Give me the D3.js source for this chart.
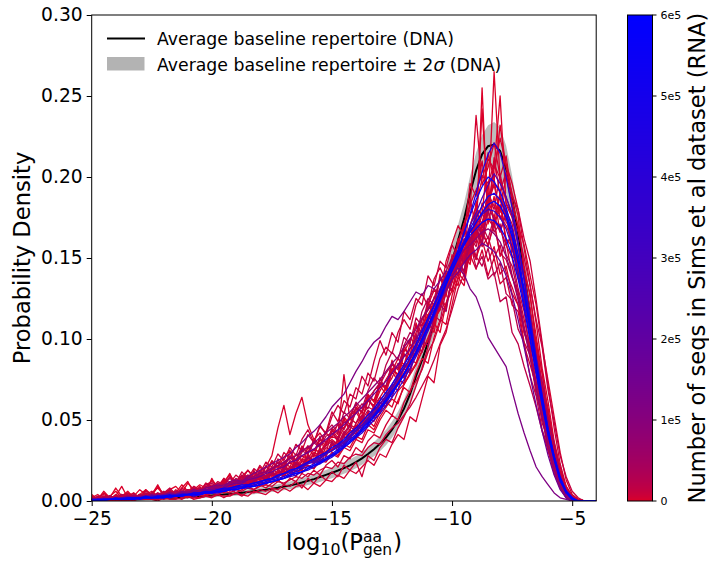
<!DOCTYPE html>
<html><head><meta charset="utf-8">
<script src="https://cdn.jsdelivr.net/npm/d3@7"></script>
<style>body{margin:0;background:#fff}svg{display:block}text{font-family:"DejaVu Sans",sans-serif}</style>
</head><body><svg id="c" width="709" height="561"></svg>
<script>
// ---- data (densities read in units of 1e-3) ----
const xBins = [-25,-24.75,-24.5,-24.25,-24,-23.75,-23.5,-23.25,-23,-22.75,-22.5,-22.25,-22,-21.75,-21.5,-21.25,-21,-20.75,-20.5,-20.25,-20,-19.75,-19.5,-19.25,-19,-18.75,-18.5,-18.25,-18,-17.75,-17.5,-17.25,-17,-16.75,-16.5,-16.25,-16,-15.75,-15.5,-15.25,-15,-14.75,-14.5,-14.25,-14,-13.75,-13.5,-13.25,-13,-12.75,-12.5,-12.25,-12,-11.75,-11.5,-11.25,-11,-10.75,-10.5,-10.25,-10,-9.75,-9.5,-9.25,-9,-8.75,-8.5,-8.25,-8,-7.75,-7.5,-7.25,-7,-6.75,-6.5,-6.25,-6,-5.75,-5.5,-5.25,-5,-4.75,-4.5,-4.25,-4];
const avgDNA = [0.3,0.4,0.5,0.6,0.7,0.8,0.9,1.0,1.1,1.2,1.4,1.5,1.7,1.8,2.0,2.2,2.4,2.6,2.8,3.1,3.4,3.7,4.0,4.3,4.7,5.1,5.5,6.0,6.5,7.0,7.6,8.2,8.9,9.6,10.4,11.4,12.5,13.5,14.8,16.1,17.4,18.8,20.3,22,24,26.3,29,32,35.3,39.2,44,50,57,66,77,87,98,110,122,135,148,161,174,190,204,214,219,220,216,205,187,165,141,115,89,64,42,25,13,5,1.5,0.3,0,0,0];
const sigma2DNA = [0.4,0.4,0.5,0.5,0.5,0.6,0.6,0.6,0.7,0.7,0.8,0.8,0.8,0.9,0.9,1,1,1.1,1.1,1.2,1.2,1.3,1.4,1.4,1.5,1.6,1.7,1.8,1.9,2,2.1,2.2,2.3,2.4,2.5,2.6,2.7,2.9,3,3.1,3.3,3.4,3.5,3.7,3.8,4,4.2,4.4,4.6,4.8,5,5.3,5.6,6,6.4,6.8,7.2,7.6,8,8.5,9,9.5,10,10.5,11,12,13,14,14.5,14.5,14,13,12,11,10,9,8,7,5,3,1.5,0.5,0,0,0];

const red01 = [0,2,1,3,1,2,4,1,3,2, 5,2,4,3,7,4,6,3,8,5, 9,6,12,8,13,11,15,12,18,14, 20,17,24,21,29,25,33,28,38,34, 45,41,78,50,55,49,62,58,71,66, 80,74,91,86,102,97,115,108,126,120, 138,149,142,156,150,161,148,157,140,145, 128,121,98,90,66,52,31,20,8,3, 1,0,0,0,0];
const red02 = [1,0,2,1,1,3,1,2,2,4, 2,3,5,3,4,6,3,5,4,7, 6,8,5,9,8,11,9,12,11,15, 13,16,19,15,22,19,24,26,23,30, 31,35,33,40,38,45,50,46,55,61, 58,68,72,79,85,92,101,110,104,122, 130,141,136,158,149,172,181,265,198,176, 168,142,131,104,86,62,45,27,15,6, 2,0,0,0,0];
const red03 = [0,1,1,2,1,1,3,2,1,2, 3,2,4,2,5,3,4,6,4,5, 7,5,8,6,10,8,9,13,10,12, 14,12,16,19,15,21,22,20,26,25, 30,28,35,33,40,38,47,44,52,58, 63,60,72,78,84,93,99,112,118,131, 139,152,147,170,162,255,171,188,166,180, 151,148,119,110,84,69,44,30,14,7, 2,1,0,0,0];
const red04 = [0,0,1,0,1,1,0,2,1,1, 1,2,1,2,2,1,3,2,2,3, 3,4,2,4,5,3,6,5,7,6, 8,7,10,9,12,8,14,11,16,13, 18,15,22,19,24,15,28,25,33,38, 36,45,52,60,71,82,95,108,121,133, 146,160,171,183,192,201,196,208,199,187, 178,158,139,119,93,71,48,29,15,5, 1,0,0,0,0];
const red05 = [2,1,3,2,1,4,2,3,1,5, 3,4,2,6,4,3,7,5,4,8, 10,7,13,9,12,15,11,17,14,21, 28,45,59,41,54,64,47,38,42,36, 44,39,52,47,58,55,66,61,73,70, 82,78,94,90,104,112,118,125,137,131, 146,140,155,162,149,168,157,173,151,160, 139,126,104,95,70,55,34,22,10,4, 1,0,0,0,0];
const red06 = [1,2,0,1,2,3,1,2,4,2, 3,5,2,4,3,6,5,4,7,5, 6,9,7,10,8,12,10,11,15,13, 14,19,16,21,18,25,23,29,26,33, 31,38,35,44,41,52,48,55,60,64, 70,74,81,88,92,101,108,117,124,132, 141,150,162,158,178,171,190,182,176,170, 161,137,129,99,87,58,44,23,12,4, 1,0,0,0,0];
const red07 = [1,1,2,3,1,2,3,2,4,3, 2,4,5,3,6,4,7,5,8,6, 9,8,11,10,14,12,16,13,18,17, 21,19,24,27,23,30,34,31,38,36, 43,47,44,52,57,55,63,68,72,79, 84,81,95,100,98,112,120,116,131,139, 136,152,148,163,157,170,162,175,168,158, 150,131,117,92,78,55,38,21,11,3, 1,0,0,0,0];
const red08 = [0,1,2,1,3,1,2,3,2,1, 4,2,3,5,3,6,4,5,8,5, 7,10,8,9,13,10,12,15,13,16, 18,15,20,24,21,26,24,30,28,35, 38,35,42,47,45,53,58,56,64,70, 76,85,83,94,101,99,115,122,118,137, 130,146,139,152,143,155,139,150,134,138, 121,117,96,84,71,48,39,20,10,3, 0,0,0,0,0];
const red09 = [1,0,1,2,1,2,1,3,2,2, 2,3,4,2,5,3,4,6,5,6, 8,6,7,10,9,11,10,13,12,14, 16,15,18,17,22,20,25,23,27,30, 32,35,34,40,43,47,51,49,58,63, 66,72,79,84,91,97,106,113,121,129, 137,148,155,170,181,176,215,198,232,206, 190,176,141,128,96,80,52,36,17,8, 3,1,0,0,0];
const red10 = [0,2,1,1,3,2,1,2,3,4, 2,3,5,4,3,5,6,4,7,6, 8,7,9,11,8,12,11,14,13,15, 17,16,20,19,23,22,27,25,31,29, 35,33,40,38,46,44,52,57,55,63, 69,75,73,86,90,99,106,114,126,130, 143,139,161,154,175,169,188,180,202,184, 177,166,150,133,112,95,68,49,28,15, 6,2,0,0,0];
const red11 = [2,1,1,3,2,4,2,1,3,2, 5,3,4,6,3,5,7,4,6,9, 7,11,9,12,10,14,16,13,19,15, 20,24,21,27,25,31,29,36,33,40, 42,38,49,46,55,60,57,68,73,71, 85,82,96,104,101,117,125,121,138,134, 149,145,160,155,172,164,180,166,171,152, 145,128,108,92,74,53,37,19,9,2, 0,0,0,0,0];
const red12 = [0,1,0,2,1,1,2,1,1,3, 2,1,3,2,4,3,2,5,3,4, 5,4,6,8,5,7,9,7,10,8, 11,13,10,14,12,17,15,19,16,22, 25,21,28,26,33,30,37,41,39,47, 53,50,61,68,74,81,92,99,110,122, 135,147,141,168,159,184,176,212,188,179, 171,152,137,107,95,67,50,30,16,6, 2,0,0,0,0];
const red13 = [3,1,5,2,8,3,6,2,4,7, 3,9,4,6,5,10,6,8,5,11, 9,6,14,8,11,16,12,10,18,13, 17,14,22,19,26,20,29,24,33,27, 37,31,42,39,47,45,55,51,61,58, 70,76,72,88,85,97,110,104,125,118, 139,133,152,146,168,160,174,169,183,162, 157,138,125,101,83,63,40,27,12,5, 1,0,0,0,0];
const red14 = [1,1,2,1,2,1,3,2,3,2, 4,3,3,5,4,5,4,6,6,5, 7,9,8,10,9,11,13,12,14,15, 16,18,17,21,20,24,26,25,30,29, 34,37,36,42,45,48,54,52,60,65, 69,77,82,87,96,102,111,120,128,139, 147,158,171,180,238,195,206,221,200,213, 186,169,145,126,102,78,55,33,18,7, 2,0,0,0,0];
const red15 = [2,1,3,1,4,2,3,5,2,4, 6,3,5,7,4,8,6,9,7,10, 12,9,14,11,16,13,19,15,22,18, 25,21,30,26,35,31,41,36,46,42, 55,49,62,58,70,66,79,74,88,95, 91,104,112,106,121,128,120,137,144,136, 151,146,160,152,168,157,163,150,158,141, 132,121,104,92,73,61,42,28,14,5, 2,0,0,0,0];
const red16 = [1,2,1,0,3,1,2,1,4,2, 3,1,4,3,5,2,6,4,5,7, 5,8,6,9,12,8,11,13,10,15, 14,18,15,20,24,19,27,23,30,28, 36,31,40,44,39,50,47,58,54,65, 72,68,85,80,98,92,111,126,119,141, 135,162,150,187,168,242,179,206,250,183, 175,160,121,117,83,70,41,32,12,6, 1,0,0,0,0];
const red17 = [1,3,2,1,2,4,1,3,2,5, 3,4,6,3,5,7,5,8,6,9, 11,8,10,14,11,16,13,18,15,21, 19,24,22,28,25,33,30,37,34,43, 47,42,55,51,61,57,68,76,71,84, 92,87,101,97,113,108,124,131,127,142, 150,158,147,163,151,145,156,139,147,128, 124,106,98,77,65,44,33,17,8,2, 0,0,0,0,0];
const red18 = [0,1,0,1,0,1,1,0,2,1, 1,0,2,1,1,2,3,1,2,3, 2,4,3,3,5,4,3,6,5,4, 7,5,8,6,9,10,7,11,9,13, 12,16,14,19,17,21,25,22,29,27, 35,41,38,52,49,63,77,73,96,104, 121,138,152,170,182,199,211,205,224,208, 196,180,156,133,110,82,61,37,21,8, 3,1,0,0,0];
const red19 = [2,4,1,3,6,2,5,3,7,4, 5,8,4,7,9,5,11,7,10,8, 13,9,12,16,11,15,19,14,21,17, 24,20,27,31,25,34,29,38,35,42, 39,48,45,53,60,54,65,62,73,69, 80,88,84,97,93,108,115,110,127,134, 129,147,156,149,171,164,186,175,190,172, 168,149,140,111,99,72,57,35,19,9, 3,1,0,0,0];
const red20 = [1,2,4,2,1,3,5,2,3,6, 4,2,5,8,4,6,3,9,6,11, 8,12,10,15,11,18,14,20,17,24, 21,29,25,33,28,38,44,36,47,41, 52,59,54,66,63,77,71,86,99,90, 104,98,117,112,125,121,139,133,148,144, 158,151,169,160,174,165,158,171,153,149, 138,129,112,96,81,57,43,24,12,4, 1,0,0,0,0];
const red21 = [0,1,2,1,1,2,3,1,2,2, 3,2,4,3,3,5,4,3,6,4, 6,8,5,7,9,8,11,9,12,10, 14,12,16,15,19,17,22,20,25,24, 29,27,33,31,38,36,44,42,50,56, 53,62,70,67,79,88,85,101,112,109, 127,138,133,155,166,160,184,195,178,201, 182,170,158,139,121,96,74,52,30,13, 4,1,0,0,0];
const red22 = [1,0,2,3,1,2,1,4,2,3, 2,5,3,4,6,3,5,7,4,6, 9,6,8,11,8,13,10,12,16,13, 17,15,20,18,23,21,27,24,31,28, 36,33,41,46,43,50,56,53,62,67, 64,75,82,79,93,99,96,114,121,117, 139,146,142,161,170,158,182,174,166,177, 155,147,124,114,88,74,50,35,16,7, 2,0,0,0,0];
const red23 = [1,2,1,3,2,1,4,2,3,2, 4,3,5,2,6,4,5,7,4,8, 9,7,11,8,12,10,14,12,16,13, 18,16,21,19,24,22,28,25,31,34, 37,35,43,40,48,53,50,59,64,61, 72,78,76,89,95,92,108,115,111,130, 138,152,147,160,144,151,137,141,123,126, 104,97,83,71,58,43,31,17,8,2, 0,0,0,0,0];
const red24 = [0,1,2,1,3,1,2,2,4,1, 3,4,2,5,3,6,4,5,7,6, 8,10,7,11,9,13,15,12,17,14, 19,22,18,25,23,28,26,32,30,36, 40,38,45,51,48,56,62,59,68,75, 81,78,92,99,108,104,121,130,127,148, 159,170,163,196,188,210,182,199,174,181, 160,144,128,105,89,63,47,26,13,5, 1,0,0,0,0];
const red25 = [1,0,1,1,2,0,1,2,1,2, 2,1,3,2,2,4,3,2,4,3, 5,4,6,5,7,6,8,7,9,10, 9,12,11,13,15,14,17,16,19,21, 20,24,23,27,29,28,33,36,35,41, 45,48,53,58,64,71,78,87,97,106, 118,131,140,154,163,177,185,196,191,203, 188,180,162,148,124,98,71,45,23,9, 3,1,0,0,0];
const red26 = [4,1,6,2,3,9,2,5,1,7, 4,10,3,6,2,8,12,5,9,4, 14,7,11,17,9,13,8,19,12,22, 15,26,19,31,22,18,34,27,40,29, 44,36,51,43,58,49,64,57,76,68, 87,74,96,89,110,98,123,115,140,126, 152,139,171,148,185,162,196,170,189,158, 165,139,130,104,91,66,48,30,14,4, 1,0,0,0,0];
const purple01 = [1,1,2,1,2,2,3,2,3,3, 4,3,4,5,4,6,5,7,6,8, 9,10,9,12,13,12,15,17,19,21, 23,25,27,29,33,36,40,43,47,52, 58,62,66,73,80,86,93,98,101,108, 114,112,117,123,129,127,133,131,136,142, 139,144,140,131,126,116,101,95,89,83, 68,54,42,31,21,15,10,5,2,1, 0,0,0,0,0];
const purple02 = [1,1,1,2,1,2,2,3,2,3, 3,4,3,5,4,5,6,5,7,7, 8,9,10,11,12,12,14,15,17,18, 20,22,24,26,28,31,33,36,39,42, 45,48,52,55,59,63,67,71,75,80, 85,89,95,100,106,113,118,125,131,138, 143,149,155,158,162,166,168,165,160,151, 139,124,106,88,69,51,34,20,9,3, 1,0,0,0,0];
const purple03 = [0,1,1,1,1,2,1,2,2,2, 3,2,3,3,4,3,4,5,4,5, 6,6,7,8,8,9,10,11,12,13, 14,15,17,18,19,21,23,24,26,29, 31,33,36,39,43,46,50,54,58,63, 68,73,78,84,91,99,107,115,124,134, 143,152,160,170,178,187,195,202,196,188, 176,158,137,113,89,66,45,28,14,5, 1,0,0,0,0];
const purple04 = [1,0,1,1,2,1,2,2,1,3, 2,3,4,3,4,5,4,6,5,7, 7,8,8,10,11,11,13,14,15,17, 18,20,21,24,25,28,30,32,35,38, 41,44,47,51,54,58,62,66,70,74, 79,84,89,94,100,106,112,118,124,130, 137,141,147,152,155,159,157,154,148,139, 127,112,95,77,59,43,28,16,7,2, 0,0,0,0,0];
const blue01 = [0,0,1,1,1,1,1,1,2,2, 2,2,2,3,3,3,4,4,4,5, 5,6,6,7,7,8,8,9,10,11, 12,13,14,15,16,18,19,21,23,25, 27,30,33,36,39,42,46,50,54,59, 64,69,75,82,89,97,105,114,123,133, 143,154,165,177,190,203,214,221,215,200, 181,160,137,112,88,65,44,28,15,6, 2,0,0,0,0];
const blue02 = [0,1,1,1,1,1,2,1,2,2, 2,3,2,3,3,4,4,4,5,5, 5,6,7,7,8,9,9,10,11,12, 13,14,15,17,18,20,21,23,25,27, 29,32,35,38,41,45,49,53,58,63, 68,73,79,85,92,100,108,117,126,135, 144,152,160,168,175,182,188,190,186,178, 165,148,128,106,84,63,43,27,14,6, 2,0,0,0,0];
const blue03 = [1,1,1,1,1,2,2,2,2,2, 3,3,3,3,4,4,4,5,5,6, 6,7,7,8,9,9,10,11,12,13, 14,15,17,18,20,21,23,25,27,29, 31,34,37,40,44,47,51,56,60,65, 70,76,82,88,95,103,111,120,128,137, 145,153,160,166,172,177,180,179,175,168, 157,141,122,101,80,60,41,26,13,5, 1,0,0,0,0];
const blue04 = [0,1,0,1,1,1,1,2,1,2, 2,2,3,2,3,3,4,3,4,5, 5,5,6,7,7,8,9,9,10,11, 12,13,14,16,17,18,20,22,23,26, 28,30,33,36,40,43,47,52,56,61, 66,72,78,85,91,99,107,116,126,135, 146,155,166,176,186,194,200,197,191,181, 168,152,131,109,86,64,44,27,14,5, 1,0,0,0,0];
const blue05 = [1,1,1,1,2,1,2,2,2,3, 2,3,3,4,3,4,4,5,5,6, 6,7,8,8,9,10,10,11,12,13, 14,16,17,19,20,22,24,26,28,30, 33,35,38,42,45,49,53,57,62,67, 72,78,84,90,97,105,113,121,130,138, 146,153,158,164,168,172,174,173,169,162, 151,137,119,99,79,59,40,25,12,5, 1,0,0,0,0];
const blue06 = [0,0,1,1,1,1,1,1,2,2, 2,2,2,3,3,3,4,4,4,5, 5,6,6,7,7,8,9,9,10,11, 12,13,14,16,17,18,20,22,24,26, 28,31,34,37,40,44,48,52,57,62, 67,72,78,85,92,100,108,116,125,134, 142,150,158,166,172,178,183,185,182,175, 163,147,128,106,84,63,43,27,14,6, 2,0,0,0,0];

const seriesData = [red01,red02,red03,red04,red05,red06,red07,red08,red09,red10,red11,red12,red13,red14,red15,red16,red17,red18,red19,red20,red21,red22,red23,red24,red25,red26,purple01,purple02,purple03,purple04,blue01,blue02,blue03,blue04,blue05,blue06];
const seriesCounts = [3000,1200,800,6000,2000,9000,15000,4000,1500,12000,25000,5000,500,2500,7000,1000,20000,3500,600,10000,2200,40000,18000,2800,8000,1500,120000,80000,250000,150000,380000,450000,320000,520000,560000,600000];

const xTicks = [-25,-20,-15,-10,-5];
const yTicks = [0,0.05,0.10,0.15,0.20,0.25,0.30];
const cbTicks = [0,100000,200000,300000,400000,500000,600000];
const cbTickLabels = ["0","1e5","2e5","3e5","4e5","5e5","6e5"];
const legendLabels = ["Average baseline repertoire (DNA)", "Average baseline repertoire \u00b1 2", "\u03c3", " (DNA)"];
const UNIT = 1000;

// ---- layout ----
const L = 91.7, R = 596.2, T = 15, B = 501;
const svg = d3.select("#c");
const x = d3.scaleLinear([-25, -4], [L, R]);
const y = d3.scaleLinear([0, 0.30], [B, T]);
const cmax = 600000;
const cInterp = d3.interpolateRgb("rgb(228,0,32)", "rgb(0,0,255)");
const cnorm = d3.scalePow().exponent(0.5).domain([0, cmax]).range([0, 1]);
const color = c => cInterp(cnorm(c));

svg.append("defs").append("clipPath").attr("id", "clip")
  .append("rect").attr("x", L).attr("y", T - 1).attr("width", R - L).attr("height", B - T + 1);

const plot = svg.append("g").attr("clip-path", "url(#clip)");

const band = d3.area().x((d, i) => x(xBins[i]))
  .y0((d, i) => y(Math.max(0, avgDNA[i] - sigma2DNA[i]) / UNIT))
  .y1((d, i) => y((avgDNA[i] + sigma2DNA[i]) / UNIT));
plot.append("path").attr("d", band(avgDNA)).attr("fill", "#bdbdbd");

const line = d3.line().x((d, i) => x(xBins[i])).y(d => y(d / UNIT));
plot.append("path").attr("d", line(avgDNA)).attr("fill", "none").attr("stroke", "#000").attr("stroke-width", 2);

const order = d3.range(seriesData.length).sort((a, b) => seriesCounts[a] - seriesCounts[b]);
order.forEach(k => {
  plot.append("path").attr("d", line(seriesData[k])).attr("fill", "none")
    .attr("stroke", color(seriesCounts[k])).attr("stroke-width", 1.3).attr("stroke-linejoin", "round");
});

// axes
const fs = "18.7px";
const xAxis = svg.append("g").attr("transform", `translate(0,${B})`)
  .call(d3.axisBottom(x).tickValues(xTicks).tickSize(5).tickPadding(6));
const yAxis = svg.append("g").attr("transform", `translate(${L},0)`)
  .call(d3.axisLeft(y).tickValues(yTicks).tickSize(5).tickPadding(4).tickFormat(d3.format(".2f")));
[xAxis, yAxis].forEach(a => {
  a.selectAll("text").attr("font-size", fs).attr("font-family", "DejaVu Sans").attr("fill", "#000");
  a.selectAll("line").attr("stroke", "#000").attr("stroke-width", 1);
  a.select(".domain").remove();
});
svg.append("rect").attr("x", L).attr("y", T).attr("width", R - L).attr("height", B - T)
  .attr("fill", "none").attr("stroke", "#000").attr("stroke-width", 1);

// axis labels
svg.append("text").attr("transform", `translate(30,${(T + B) / 2}) rotate(-90)`)
  .attr("text-anchor", "middle").attr("font-size", "22.6px").text("Probability Density");

const xl = svg.append("g");
const by = 549.5;
let cx = 0;
function piece(str, size, dy) {
  const t = xl.append("text").attr("x", cx).attr("y", by + dy).attr("font-size", size + "px").text(str);
  return t.node().getComputedTextLength();
}
cx += piece("log", 22.6, 0);
cx += piece("10", 15.8, 5);
cx += piece("(P", 22.6, 0);
const wa = piece("aa", 15.5, -7.5);
const wg = piece("gen", 15.5, 5.5);
cx += Math.max(wa, wg) + 1;
cx += piece(")", 22.6, 0);
xl.attr("transform", `translate(${(L + R) / 2 - cx / 2},0)`);

// legend
svg.append("line").attr("x1", 107).attr("x2", 145).attr("y1", 38.5).attr("y2", 38.5).attr("stroke", "#000").attr("stroke-width", 2);
svg.append("text").attr("x", 157).attr("y", 44.5).attr("font-size", "17.3px").text(legendLabels[0]);
svg.append("rect").attr("x", 107).attr("y", 57).attr("width", 37.5).attr("height", 13.5).attr("fill", "#b3b3b3");
const lt = svg.append("text").attr("x", 157).attr("y", 70.5).attr("font-size", "17.3px");
lt.append("tspan").text(legendLabels[1]);
lt.append("tspan").attr("font-style", "italic").text(legendLabels[2]);
lt.append("tspan").text(legendLabels[3]);

// colorbar
const CX0 = 627.5, CX1 = 652.5;
const cy = d3.scaleLinear([0, cmax], [B, T]);
const cb = svg.append("g");
for (let p = Math.floor(T); p < B; p++) {
  const v = cy.invert(p + 0.5);
  cb.append("rect").attr("x", CX0).attr("y", p).attr("width", CX1 - CX0).attr("height", 1.05).attr("fill", color(Math.max(0, v)));
}
cb.append("rect").attr("x", CX0).attr("y", T).attr("width", CX1 - CX0).attr("height", B - T)
  .attr("fill", "none").attr("stroke", "#000").attr("stroke-width", 1);
cbTicks.forEach((t, i) => {
  cb.append("line").attr("x1", CX1).attr("x2", CX1 + 4).attr("y1", cy(t)).attr("y2", cy(t)).attr("stroke", "#000");
  cb.append("text").attr("x", CX1 + 8).attr("y", cy(t)).attr("dy", "0.36em").attr("font-size", "11px").text(cbTickLabels[i]);
});
svg.append("text").attr("transform", `translate(704.5,${(T + B) / 2}) rotate(-90)`)
  .attr("text-anchor", "middle").attr("font-size", "22.6px").text("Number of seqs in Sims et al dataset (RNA)");
</script></body></html>
